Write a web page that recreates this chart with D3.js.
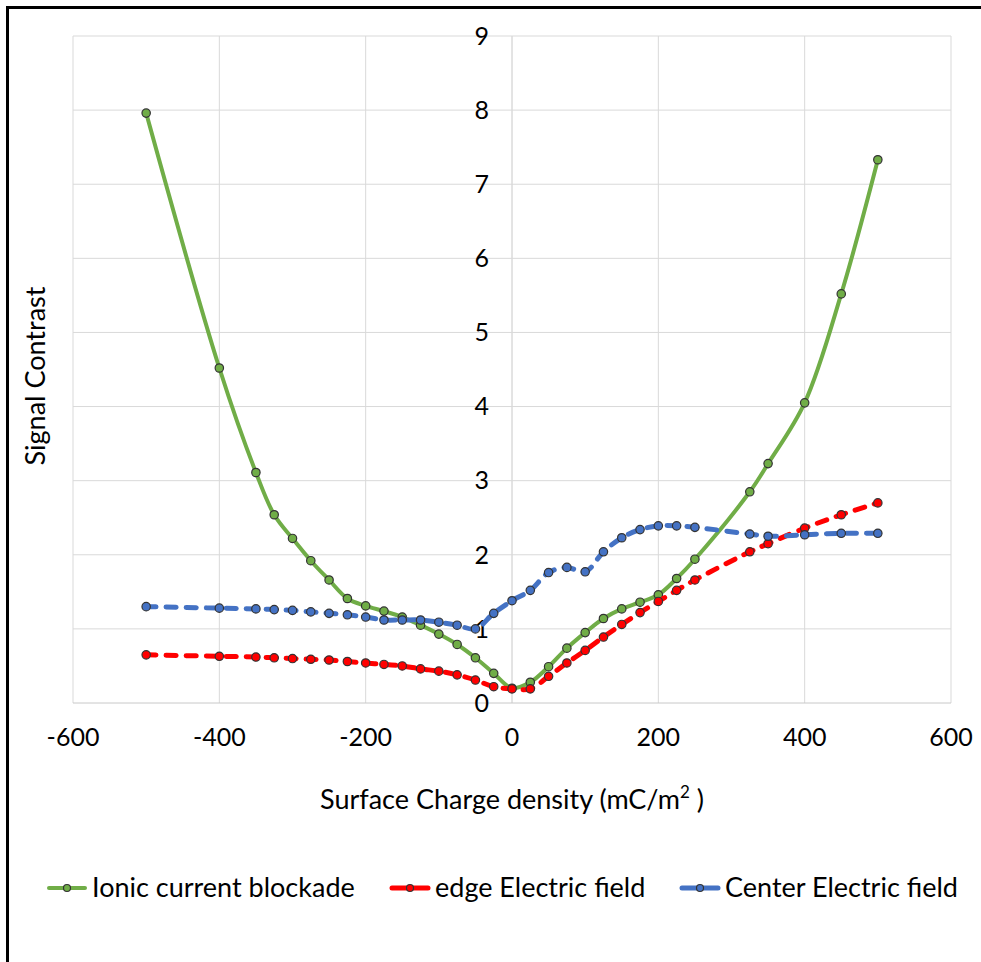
<!DOCTYPE html>
<html>
<head>
<meta charset="utf-8">
<script src="https://cdn.jsdelivr.net/npm/d3@7"></script>
<style>
  body { margin: 0; background: #fff; }
  text { font-family: Lato, "Open Sans", sans-serif; fill: #000; }
</style>
</head>
<body>
<div id="chart"></div>
<script>
// surface charge density values (mC/m2), shared by all three series
const charge = [-500, -400, -350, -325, -300, -275, -250, -225, -200, -175, -150, -125, -100, -75, -50, -25,
    0, 25, 50, 75, 100, 125, 150, 175, 200, 225, 250, 325, 350, 400, 450, 500];
const ionic = [7.96, 4.52, 3.11, 2.54, 2.22, 1.92, 1.66, 1.41, 1.31, 1.24, 1.16, 1.05, 0.93, 0.79, 0.61, 0.40,
    0.20, 0.28, 0.49, 0.74, 0.95, 1.14, 1.27, 1.36, 1.46, 1.68, 1.94, 2.85, 3.23, 4.05, 5.52, 7.33];
const edge = [0.65, 0.63, 0.62, 0.61, 0.60, 0.59, 0.58, 0.56, 0.54, 0.52, 0.50, 0.46, 0.43, 0.38, 0.31, 0.22,
    0.19, 0.19, 0.36, 0.54, 0.71, 0.89, 1.06, 1.22, 1.37, 1.52, 1.66, 2.04, 2.15, 2.36, 2.54, 2.70];
const center = [1.30, 1.28, 1.27, 1.26, 1.25, 1.23, 1.21, 1.19, 1.16, 1.12, 1.12, 1.12, 1.09, 1.05, 1.00, 1.21,
    1.38, 1.52, 1.76, 1.83, 1.77, 2.04, 2.23, 2.34, 2.39, 2.39, 2.37, 2.28, 2.25, 2.27, 2.29, 2.29];
const seriesNames = ["Ionic current blockade", "edge Electric field", "Center Electric field"];
const xTicks = [-600, -400, -200, 0, 200, 400, 600];
const yTicks = [0, 1, 2, 3, 4, 5, 6, 7, 8, 9];

const W = 981, H = 962;
const margin = { top: 36, right: 30, bottom: 259, left: 73 },
    width = W - margin.left - margin.right,
    height = H - margin.top - margin.bottom;

const svg = d3.select("#chart")
    .append("svg")
    .attr("width", W)
    .attr("height", H);

// outer frame
svg.append("rect")
    .attr("x", 7.5).attr("y", 7.5)
    .attr("width", W + 20).attr("height", H + 20)
    .attr("fill", "none")
    .attr("stroke", "#000")
    .attr("stroke-width", 3);

const g = svg.append("g")
    .attr("transform", `translate(${margin.left},${margin.top})`);

const x = d3.scaleLinear().domain([-600, 600]).range([0, width]);
const y = d3.scaleLinear().domain([0, 9]).range([height, 0]);

// gridlines
g.append("g")
    .selectAll("line")
    .data(xTicks)
    .join("line")
    .attr("x1", d => x(d)).attr("x2", d => x(d))
    .attr("y1", 0).attr("y2", height)
    .attr("stroke", d => d === 0 ? "#c8c8c8" : "#d9d9d9")
    .attr("stroke-width", 1);

g.append("g")
    .selectAll("line")
    .data(yTicks)
    .join("line")
    .attr("x1", 0).attr("x2", width)
    .attr("y1", d => y(d)).attr("y2", d => y(d))
    .attr("stroke", d => d === 0 ? "#c8c8c8" : "#d9d9d9")
    .attr("stroke-width", 1);

// x tick labels
g.append("g")
    .selectAll("text")
    .data(xTicks)
    .join("text")
    .attr("x", d => x(d))
    .attr("y", height + 43)
    .attr("text-anchor", "middle")
    .attr("font-size", 25)
    .text(d => d);

// y tick labels, next to the vertical axis at x = 0
g.append("g")
    .selectAll("text")
    .data(yTicks)
    .join("text")
    .attr("x", x(0) - 23)
    .attr("y", d => y(d))
    .attr("dy", "0.35em")
    .attr("text-anchor", "end")
    .attr("font-size", 25)
    .text(d => d);

// axis titles
const xt = svg.append("text")
    .attr("x", margin.left + x(0))
    .attr("y", 809)
    .attr("text-anchor", "middle")
    .attr("font-size", 27);
xt.append("tspan").text("Surface Charge density (mC/m");
xt.append("tspan").attr("font-size", 17).attr("dy", -11).text("2");
xt.append("tspan").attr("dy", 11).text(" )");

svg.append("text")
    .attr("transform", "translate(45,376) rotate(-90)")
    .attr("text-anchor", "middle")
    .attr("font-size", 27)
    .text("Signal Contrast");

const series = [
    { name: seriesNames[0], values: ionic, color: "#70ad47", dash: null, w: 4 },
    { name: seriesNames[1], values: edge, color: "#ff0000", dash: "10,10", w: 5 },
    { name: seriesNames[2], values: center, color: "#4472c4", dash: "10,10", w: 5 }
];

const line = d3.line()
    .x(d => x(d[0]))
    .y(d => y(d[1]))
    .curve(d3.curveCatmullRom.alpha(0.5));

series.forEach(s => {
    const pts = charge.map((c, i) => [c, s.values[i]]);
    g.append("path")
        .datum(pts)
        .attr("d", line)
        .attr("fill", "none")
        .attr("stroke", s.color)
        .attr("stroke-width", s.w)
        .attr("stroke-linecap", "round")
        .attr("stroke-dasharray", s.dash);
    g.append("g")
        .selectAll("circle")
        .data(pts)
        .join("circle")
        .attr("cx", d => x(d[0]))
        .attr("cy", d => y(d[1]))
        .attr("r", 4.2)
        .attr("fill", s.color)
        .attr("stroke", "#333")
        .attr("stroke-width", 1.2);
});

// legend
const legendX = [47, 390, 680];
const legend = svg.append("g")
    .selectAll("g")
    .data(series)
    .join("g")
    .attr("transform", (d, i) => `translate(${legendX[i]},888)`);

legend.append("line")
    .attr("x1", 2).attr("x2", 38)
    .attr("stroke", d => d.color)
    .attr("stroke-width", d => d.w)
    .attr("stroke-linecap", "round");
legend.append("circle")
    .attr("cx", 20)
    .attr("r", 3.5)
    .attr("fill", d => d.color)
    .attr("stroke", "#333")
    .attr("stroke-width", 1.2);
legend.append("text")
    .attr("x", 45)
    .attr("dy", "0.35em")
    .attr("font-size", 27)
    .text(d => d.name);
</script>
</body>
</html>
